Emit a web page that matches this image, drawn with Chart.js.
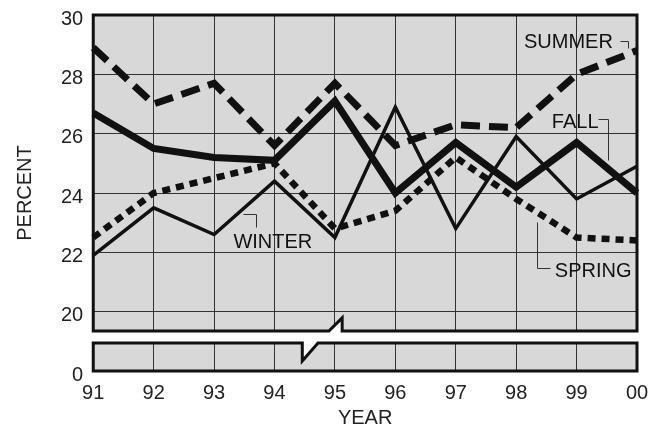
<!DOCTYPE html>
<html>
<head>
<meta charset="utf-8">
<script src="https://cdn.jsdelivr.net/npm/chart.js@4.4.1/dist/chart.umd.min.js"></script>
<style>
  html, body { margin: 0; padding: 0; background: #fff; }
  #wrap { width: 655px; height: 431px; }
</style>
</head>
<body>
<div id="wrap"><canvas id="chart" width="655" height="431"></canvas></div>
<script>
const years = ["91", "92", "93", "94", "95", "96", "97", "98", "99", "00"];
const summer = [28.9, 27.0, 27.7, 25.6, 27.7, 25.6, 26.3, 26.2, 28.0, 28.8];
const fall = [26.7, 25.5, 25.2, 25.1, 27.1, 24.0, 25.7, 24.2, 25.7, 24.0];
const winter = [21.9, 23.5, 22.6, 24.4, 22.5, 26.9, 22.8, 25.9, 23.8, 24.9];
const spring = [22.5, 24.0, 24.5, 25.0, 22.8, 23.4, 25.2, 23.8, 22.5, 22.4];

const GREY = "#d8d8d8";
const INK = "#111";
const FONT = "'Liberation Sans', Arial, sans-serif";

// series names placed in data space: text spot + leader line points [index, value]
const labels = [
  { text: "SUMMER", at: [7.13, 28.89], leader: [[8.72, 29.12], [8.85, 29.12], [8.85, 28.89]] },
  { text: "FALL", at: [7.59, 26.19], leader: [[8.36, 26.49], [8.52, 26.49], [8.52, 25.11]] },
  { text: "WINTER", at: [2.32, 22.15], leader: [[2.48, 23.29], [2.70, 23.29], [2.70, 22.85]] },
  { text: "SPRING", at: [7.64, 21.17], leader: [[7.35, 23.02], [7.35, 21.47], [7.56, 21.47]] }
];

// broken axis: upper panel stops at 19.35, lower panel starts at 18.945
const upperBottom = 19.35;
const lowerTop = 18.945;

const panels = {
  id: "panels",
  beforeDraw(chart) {
    let a = chart.chartArea;
    let ctx = chart.ctx;
    ctx.save();
    ctx.fillStyle = GREY;
    ctx.fillRect(a.left, a.top, a.right - a.left, a.bottom - a.top);
    ctx.restore();
  },
  afterDatasetsDraw(chart) {
    let a = chart.chartArea;
    let x = chart.scales.x;
    let y = chart.scales.y;
    let ctx = chart.ctx;
    let yu = y.getPixelForValue(upperBottom);
    let yl = y.getPixelForValue(lowerTop);
    let jagUx1 = x.getPixelForValue(3.90);
    let jagUx2 = x.getPixelForValue(4.12);
    let jagUy = y.getPixelForValue(19.79);
    let jagLx1 = x.getPixelForValue(3.46);
    let jagLx2 = x.getPixelForValue(3.72);
    let jagLy = y.getPixelForValue(18.34);
    ctx.save();
    // white gap between the two panels
    ctx.fillStyle = "#fff";
    ctx.beginPath();
    ctx.moveTo(a.left - 3, yu);
    ctx.lineTo(jagUx1, yu);
    ctx.lineTo(jagUx2, jagUy);
    ctx.lineTo(jagUx2, yu);
    ctx.lineTo(a.right + 3, yu);
    ctx.lineTo(a.right + 3, yl);
    ctx.lineTo(jagLx2, yl);
    ctx.lineTo(jagLx1, jagLy);
    ctx.lineTo(jagLx1, yl);
    ctx.lineTo(a.left - 3, yl);
    ctx.closePath();
    ctx.fill();

    ctx.strokeStyle = INK;
    ctx.lineWidth = 3;
    ctx.lineJoin = "miter";
    // upper panel
    ctx.beginPath();
    ctx.moveTo(a.left, yu);
    ctx.lineTo(a.left, a.top);
    ctx.lineTo(a.right, a.top);
    ctx.lineTo(a.right, yu);
    ctx.moveTo(a.left - 1.5, yu);
    ctx.lineTo(jagUx1, yu);
    ctx.lineTo(jagUx2, jagUy);
    ctx.lineTo(jagUx2, yu);
    ctx.lineTo(a.right + 1.5, yu);
    ctx.stroke();
    // lower panel
    ctx.beginPath();
    ctx.moveTo(a.left - 1.5, yl);
    ctx.lineTo(jagLx1, yl);
    ctx.lineTo(jagLx1, jagLy);
    ctx.lineTo(jagLx2, yl);
    ctx.lineTo(a.right + 1.5, yl);
    ctx.moveTo(a.right, yl);
    ctx.lineTo(a.right, a.bottom);
    ctx.lineTo(a.left, a.bottom);
    ctx.lineTo(a.left, yl);
    ctx.stroke();

    // series names with leader lines
    ctx.font = "20px " + FONT;
    ctx.textBaseline = "alphabetic";
    ctx.lineWidth = 1;
    for (let i = 0; i < labels.length; i++) {
      let l = labels[i];
      ctx.fillStyle = INK;
      ctx.fillText(l.text, x.getPixelForValue(l.at[0]), y.getPixelForValue(l.at[1]));
      ctx.beginPath();
      for (let j = 0; j < l.leader.length; j++) {
        let px = Math.round(x.getPixelForValue(l.leader[j][0])) + 0.5;
        let py = Math.round(y.getPixelForValue(l.leader[j][1])) + 0.5;
        if (j === 0) ctx.moveTo(px, py); else ctx.lineTo(px, py);
      }
      ctx.strokeStyle = "#333";
      ctx.stroke();
    }
    ctx.restore();
  }
};

new Chart(document.getElementById("chart"), {
  type: "line",
  data: {
    labels: years,
    datasets: [
      { label: "WINTER", data: winter, borderColor: INK, borderWidth: 3.5 },
      { label: "SPRING", data: spring, borderColor: INK, borderWidth: 6.5, borderDash: [8, 6] },
      { label: "SUMMER", data: summer, borderColor: INK, borderWidth: 7, borderDash: [19, 9] },
      { label: "FALL", data: fall, borderColor: INK, borderWidth: 7 }
    ]
  },
  options: {
    responsive: false,
    animation: false,
    events: [],
    layout: { padding: { top: 15, right: 18, left: 13, bottom: 3 } },
    elements: {
      point: { radius: 0 },
      line: { tension: 0, borderJoinStyle: "miter", borderCapStyle: "butt" }
    },
    plugins: { legend: { display: false }, tooltip: { enabled: false } },
    scales: {
      x: {
        offset: false,
        grid: { color: "#333", lineWidth: 1, drawTicks: false },
        border: { display: false },
        ticks: { color: "#222", font: { family: FONT, size: 20 }, padding: 10, maxRotation: 0, autoSkip: false },
        title: { display: true, text: "YEAR", color: "#222", font: { family: FONT, size: 20, lineHeight: 1 }, padding: { top: -7, bottom: 0 } },
        afterFit: function (scale) { scale.paddingLeft = 0; scale.paddingRight = 0; }
      },
      y: {
        min: 18,
        max: 30,
        grid: { color: "#333", lineWidth: 1, drawTicks: false },
        border: { display: false },
        ticks: {
          stepSize: 2,
          color: "#222",
          font: { family: FONT, size: 20 },
          padding: 10,
          labelOffset: 4,
          callback: function (v) { return v === 18 ? "0" : v; }
        },
        title: { display: true, text: "PERCENT", color: "#222", font: { family: FONT, size: 20 }, padding: { top: 0, bottom: 14 } },
        afterFit: function (scale) { scale.paddingTop = 0; scale.paddingBottom = 0; }
      }
    }
  },
  plugins: [panels]
});
</script>
</body>
</html>
